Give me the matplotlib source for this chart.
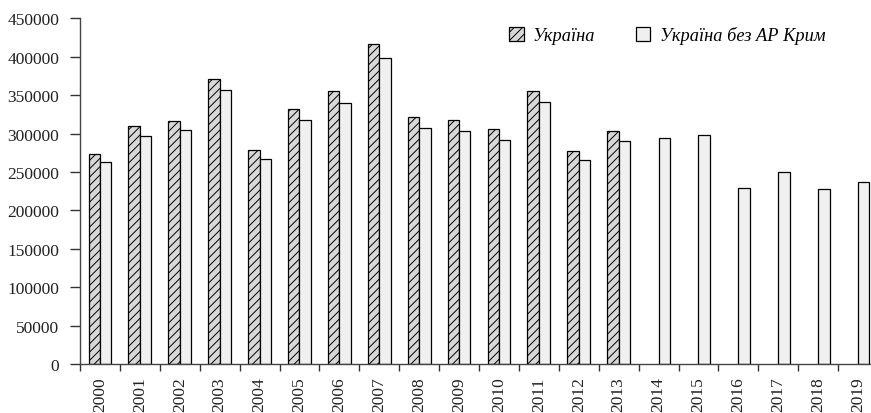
import matplotlib
matplotlib.use('Agg')
import matplotlib.pyplot as plt
import numpy as np

years = ['2000', '2001', '2002', '2003', '2004', '2005', '2006', '2007', '2008', '2009',
         '2010', '2011', '2012', '2013', '2014', '2015', '2016', '2017', '2018', '2019']
# Україна (дані до 2013 р.)
ukraine = [273800, 309400, 316800, 370700, 278200, 332400, 355000, 416200, 322000, 318100,
           305600, 355900, 277700, 303800]
# Україна без АР Крим
no_crimea = [262500, 296900, 304200, 357200, 266500, 318100, 339800, 398800, 307300, 303800,
             292100, 340700, 265600, 290800, 294700, 298600, 229200, 249600, 227900, 237400]
yticks = [0, 50000, 100000, 150000, 200000, 250000, 300000, 350000, 400000, 450000]

plt.rcParams['font.family'] = ['Liberation Serif', 'DejaVu Serif']
plt.rcParams['hatch.linewidth'] = 0.7

fig = plt.figure(figsize=(8.71, 4.14), dpi=100)
ax = fig.add_axes([80/871, 49/414, 798/871, (365-19.3)/414])

x = np.arange(len(years))
w = 0.285
ax.bar(x[:len(ukraine)] - w, ukraine, width=w, align='edge', color='#d8d8d8',
       edgecolor='black', linewidth=0.9, hatch='////', label='Україна')
ax.bar(x + 0.0, no_crimea, width=w, align='edge', color='#f0f0f0',
       edgecolor='black', linewidth=0.9, label='Україна без АР Крим')

ax.set_xlim(-0.5, len(years) - 0.5)
ax.set_ylim(0, 450000)
ax.set_yticks(yticks)
ax.set_yticklabels([str(v) for v in yticks], fontsize=12.5, color='#222222')
ax.set_xticks(x)
ax.set_xticklabels(years, rotation=90, fontsize=12.5, color='#222222')
ax.set_xticks(np.arange(len(years) + 1) - 0.5, minor=True)
ax.tick_params(axis='x', which='major', length=0, pad=9)
ax.tick_params(axis='x', which='minor', length=5, width=1, color='#333333')
ax.tick_params(axis='y', length=7, width=1, color='#333333', pad=8)

for s in ['top', 'right']:
    ax.spines[s].set_visible(False)
for s in ['left', 'bottom']:
    ax.spines[s].set_color('#444444')
    ax.spines[s].set_linewidth(1)

leg = fig.legend(loc='center left', bbox_to_anchor=(509/871, 1 - 36/414), ncol=2,
                 frameon=False, prop={'style': 'italic', 'size': 13.2},
                 handlelength=0.8, handleheight=0.8, handletextpad=0.5,
                 columnspacing=2.2, borderaxespad=0, borderpad=0)

fig.savefig('out.png', dpi=100)
